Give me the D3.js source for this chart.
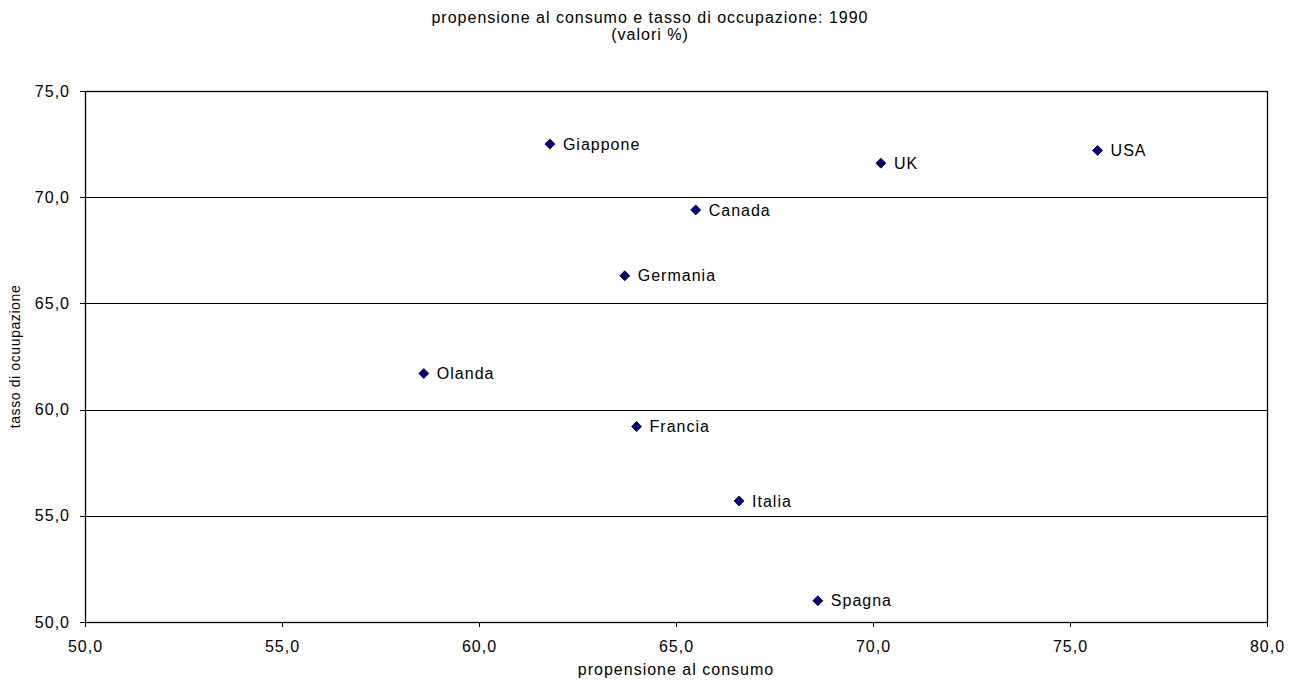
<!DOCTYPE html>
<head>
    <meta charset="utf-8">
</head>
<style>
    body {
      margin: 0;
      background: #fff;
      font-family: "Liberation Sans", Arial, sans-serif;
    }
    text {
      font-size: 16px;
      letter-spacing: 1px;
      fill: #000;
    }
    .axis path, .axis line {
      fill: none;
      stroke: #000;
      shape-rendering: crispEdges;
    }
    .grid line {
      stroke: #000;
      shape-rendering: crispEdges;
    }
</style>
<body>
<script src="https://d3js.org/d3.v7.min.js"></script>
<script>

    var countries = ["Giappone", "UK", "USA", "Canada", "Germania", "Olanda", "Francia", "Italia", "Spagna"]
    var consumo = [61.8, 70.2, 75.7, 65.5, 63.7, 58.6, 64.0, 66.6, 68.6]
    var occupazione = [72.5, 71.6, 72.2, 69.4, 66.3, 61.7, 59.2, 55.7, 51.0]
    var xTicks = [50, 55, 60, 65, 70, 75, 80]
    var yTicks = [50, 55, 60, 65, 70, 75]

    var margin = {top: 91, right: 33, bottom: 63, left: 85},
        width = 1300 - margin.left - margin.right,
        height = 685 - margin.top - margin.bottom

    var fmt = function(d) { return d3.format(".1f")(d).replace(".", ",") }

    var x = d3.scaleLinear().domain([50, 80]).range([0, width])
    var y = d3.scaleLinear().domain([50, 75]).range([height, 0])

    var svg = d3.select("body").append("svg")
        .attr("width", 1300)
        .attr("height", 685)

    // title
    svg.append("text")
        .attr("x", 650).attr("y", 23)
        .attr("text-anchor", "middle")
        .text("propensione al consumo e tasso di occupazione: 1990")
    svg.append("text")
        .attr("x", 650).attr("y", 40)
        .attr("text-anchor", "middle")
        .text("(valori %)")

    var g = svg.append("g")
        .attr("transform", "translate(" + margin.left + "," + margin.top + ")")

    // horizontal gridlines
    g.append("g").attr("class", "grid")
      .selectAll("line")
      .data(yTicks.slice(1, -1))
      .enter().append("line")
        .attr("x1", 0).attr("x2", width)
        .attr("y1", function(d) { return Math.round(y(d)) + 0.5 })
        .attr("y2", function(d) { return Math.round(y(d)) + 0.5 })

    // frame
    g.append("rect")
        .attr("x", 0.5).attr("y", 0.5)
        .attr("width", width).attr("height", height)
        .attr("fill", "none")
        .attr("stroke", "#000")
        .attr("stroke-width", 1.3)

    g.append("g")
        .attr("class", "x axis")
        .attr("transform", "translate(0," + height + ")")
        .call(d3.axisBottom(x).tickValues(xTicks).tickFormat(fmt).tickSize(5).tickPadding(14))
      .select(".domain").remove()

    g.append("g")
        .attr("class", "y axis")
        .call(d3.axisLeft(y).tickValues(yTicks).tickFormat(fmt).tickSize(5).tickPadding(10))
      .select(".domain").remove()

    g.selectAll(".axis text")
        .style("font-family", "'Liberation Sans', Arial, sans-serif")

    // axis titles
    svg.append("text")
        .attr("x", margin.left + width / 2).attr("y", 675)
        .attr("text-anchor", "middle")
        .text("propensione al consumo")

    svg.append("text")
        .attr("transform", "translate(20," + (margin.top + height / 2) + ") rotate(-90)")
        .attr("text-anchor", "middle")
        .style("font-size", "14px")
        .style("letter-spacing", "0.6px")
        .text("tasso di ocuupazione")

    var data = countries.map(function(c, i) { return {name: c, x: consumo[i], y: occupazione[i]} })

    var pts = g.selectAll(".pt")
        .data(data)
      .enter().append("g")
        .attr("class", "pt")
        .attr("transform", function(d) { return "translate(" + x(d.x) + "," + y(d.y) + ")" })

    pts.append("path")
        .attr("d", "M0,-5L5,0L0,5L-5,0Z")
        .attr("fill", "#000080")
        .attr("stroke", "#000")
        .attr("stroke-width", 0.8)

    pts.append("text")
        .attr("x", 13).attr("dy", "0.35em")
        .text(function(d) { return d.name })

</script>
</body>
